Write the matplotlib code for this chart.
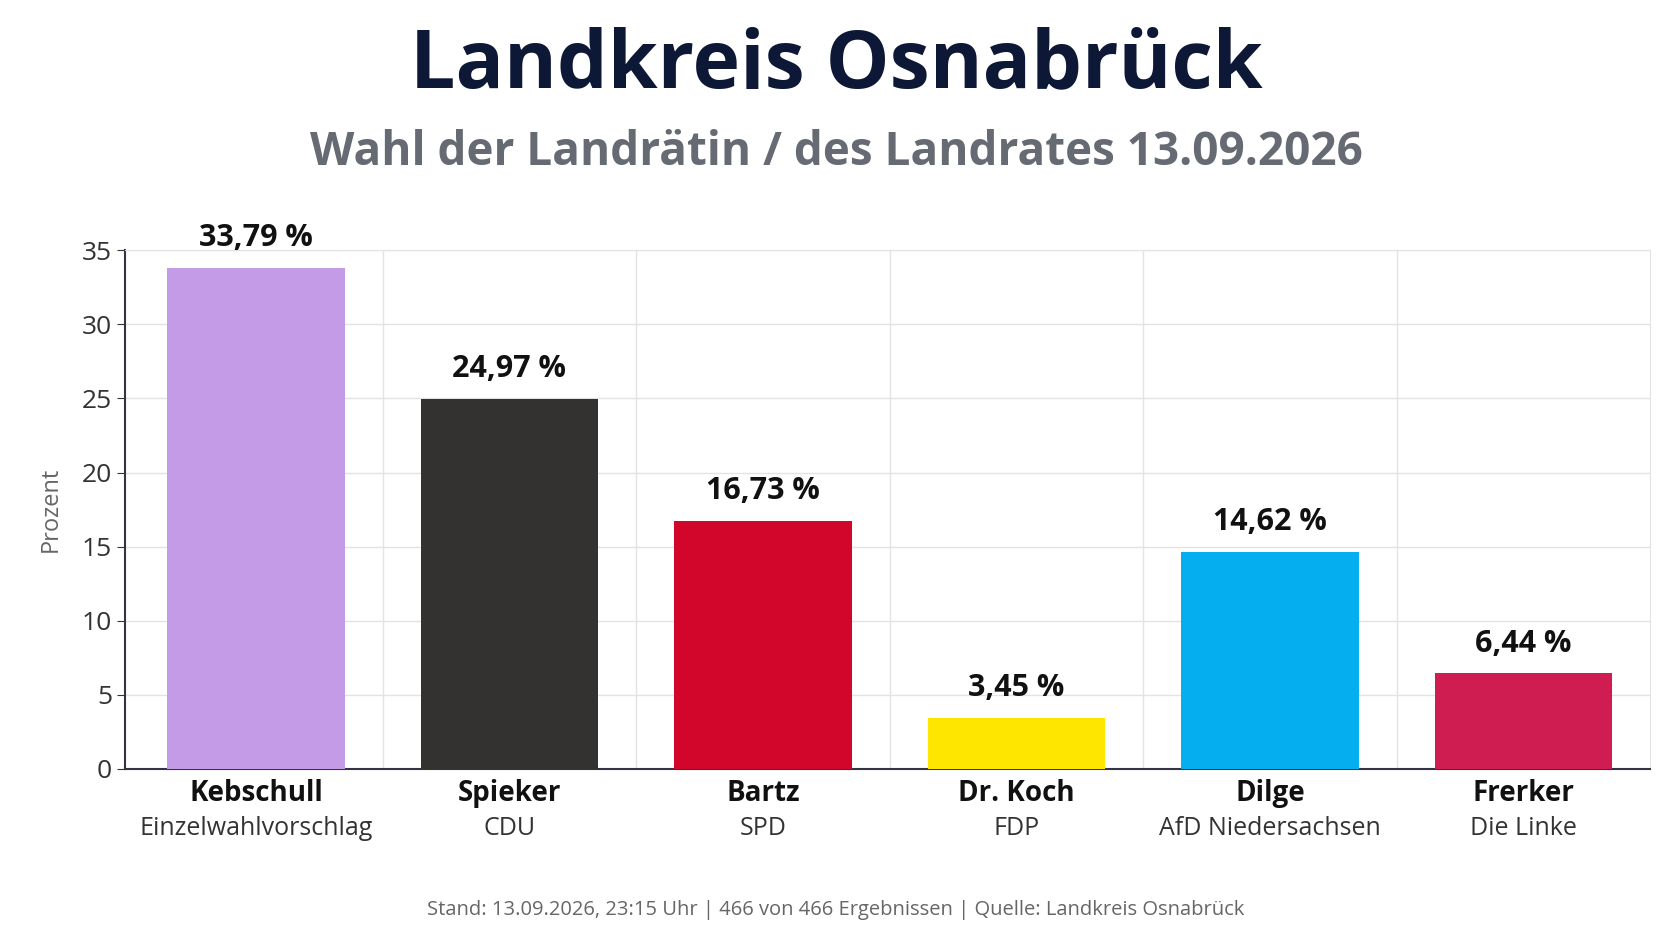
import matplotlib.pyplot as plt
from matplotlib.ticker import MultipleLocator

names = ["Kebschull", "Spieker", "Bartz", "Dr. Koch", "Dilge", "Frerker"]
parties = ["Einzelwahlvorschlag", "CDU", "SPD", "FDP", "AfD Niedersachsen", "Die Linke"]
values = [33.79, 24.97, 16.73, 3.45, 14.62, 6.44]
colors = ["#c39be6", "#343131", "#d2052a", "#ffe600", "#05aeee", "#cf1d52"]

plt.rcParams["font.family"] = ["Open Sans", "DejaVu Sans"]
fig = plt.figure(figsize=(16.72, 9.41), dpi=100)
ax = fig.add_axes([0.075, 0.183, 0.912, 0.551])

x = range(len(values))
ax.bar(x, values, width=0.7, color=colors, zorder=3)
for i, v in enumerate(values):
    ax.text(i, v + 1.0, f"{v:.2f} %".replace(".", ","), ha="center", va="bottom",
            fontsize=22, fontweight="bold", color="#111111")

ax.set_xlim(-0.515, 5.5)
ax.set_ylim(0, 35)
ax.yaxis.set_major_locator(MultipleLocator(5))
ax.set_xticks([i + 0.5 for i in range(5)], minor=True)
ax.grid(axis="y", color="#e3e3e3", lw=1, zorder=0)
ax.grid(axis="x", which="minor", color="#e3e3e3", lw=1, zorder=0)
ax.set_xticks([])
for s in ["top", "right"]:
    ax.spines[s].set_color("#e3e3e3")
for s in ["left", "bottom"]:
    ax.spines[s].set_color("#333344")
    ax.spines[s].set_linewidth(1.5)
ax.tick_params(axis="y", labelsize=19, colors="#333333", length=6, labelcolor="#333333")
ax.tick_params(axis="x", which="minor", length=0)
ax.set_ylabel("Prozent", fontsize=17, color="#666666", labelpad=14)

for i, (n, p) in enumerate(zip(names, parties)):
    ax.text(i, -1.65, n, ha="center", va="center", fontsize=20, fontweight="bold",
            color="#111111", transform=ax.transData, clip_on=False)
    ax.text(i, -4.0, p, ha="center", va="center", fontsize=18, color="#333333",
            clip_on=False)

fig.text(0.5, 0.93, "Landkreis Osnabrück", ha="center", va="center",
         fontsize=58, fontweight="bold", color="#0d1836")
fig.text(0.5, 0.838, "Wahl der Landrätin / des Landrates 13.09.2026", ha="center",
         va="center", fontsize=33, fontweight="bold", color="#666a73")
fig.text(0.5, 0.033, "Stand: 13.09.2026, 23:15 Uhr | 466 von 466 Ergebnissen | Quelle: Landkreis Osnabrück",
         ha="center", va="center", fontsize=14.5, color="#666666")

fig.savefig("out.png", dpi=100, facecolor="white")
